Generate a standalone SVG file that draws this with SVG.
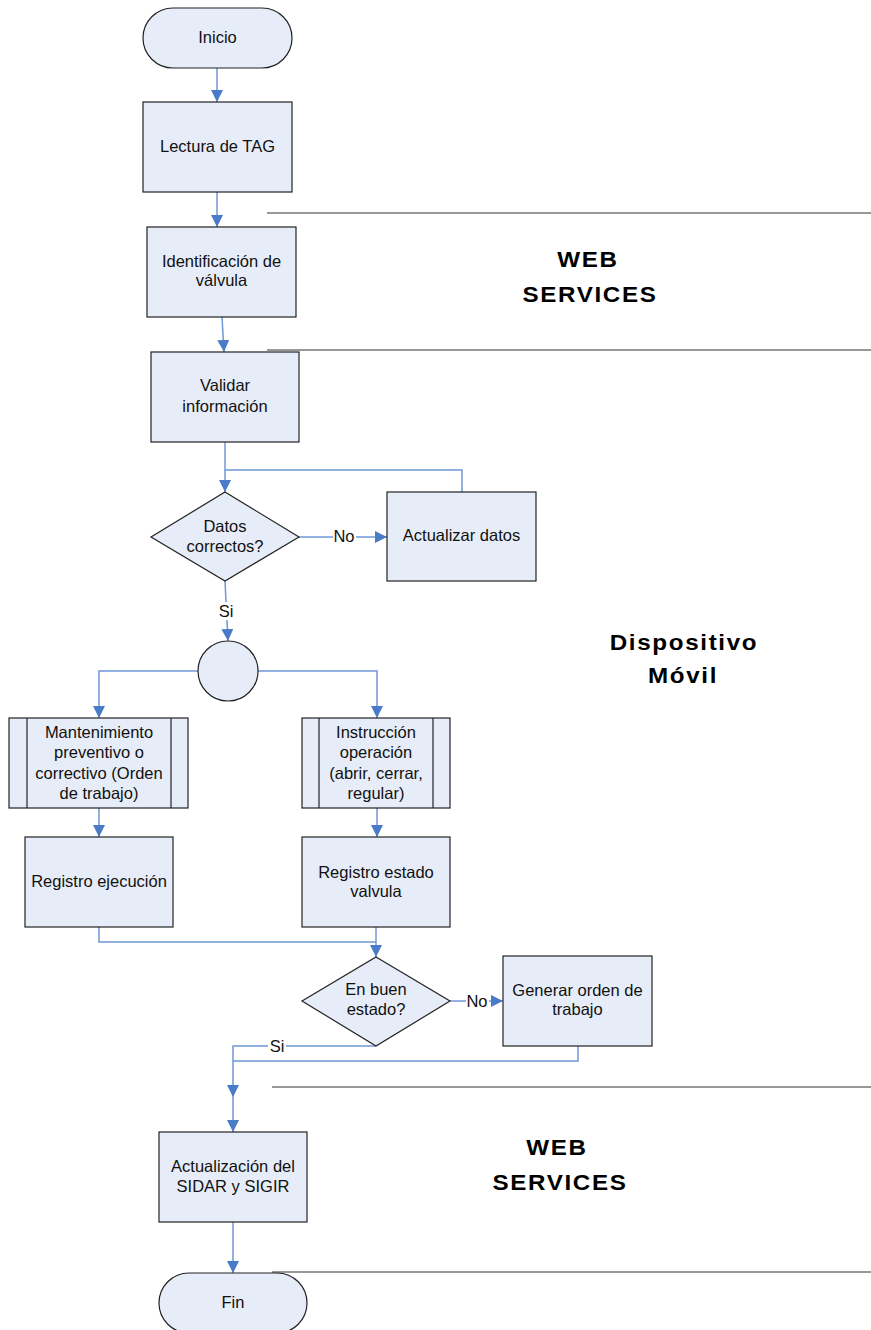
<svg xmlns="http://www.w3.org/2000/svg" width="871" height="1330" viewBox="0 0 871 1330">
  <style>
    .shape { fill: #E7EDF8; stroke: #222222; stroke-width: 1.2; }
    .lbl { font-family: "Liberation Sans", Arial, sans-serif; font-size: 16.5px; fill: #111111; text-anchor: middle; }
    .big { font-family: "Liberation Sans", Arial, sans-serif; font-size: 22px; font-weight: bold; fill: #000000; text-anchor: middle; letter-spacing: 1.5px; }
    .conn { fill: none; stroke: #6F98D6; stroke-width: 1.5; }
    .sep { stroke: #333333; stroke-width: 1.2; }
    .bg { fill: #FFFFFF; }
  </style>
  <defs>
    <marker id="arrow" markerUnits="userSpaceOnUse" markerWidth="12" markerHeight="12" refX="12" refY="6" orient="auto">
      <path d="M0,0 L12,6 L0,12 z" fill="#4A7BC8"/>
    </marker>
  </defs>

  <rect width="871" height="1330" fill="#FFFFFF"/>

  <!-- section separators -->
  <g id="separators">
    <line class="sep" x1="267" y1="213" x2="871" y2="213"/>
    <line class="sep" x1="267" y1="350" x2="871" y2="350"/>
    <line class="sep" x1="272" y1="1087" x2="871" y2="1087"/>
    <line class="sep" x1="272" y1="1272" x2="871" y2="1272"/>
  </g>

  <!-- section titles (widened lettering) -->
  <g id="titles">
    <text class="big" transform="translate(588,267) scale(1.1,1)">WEB</text>
    <text class="big" transform="translate(590,302) scale(1.1,1)">SERVICES</text>
    <text class="big" transform="translate(684,650) scale(1.1,1)">Dispositivo</text>
    <text class="big" transform="translate(683,683) scale(1.1,1)">Móvil</text>
    <text class="big" transform="translate(557,1155) scale(1.1,1)">WEB</text>
    <text class="big" transform="translate(560,1190) scale(1.1,1)">SERVICES</text>
  </g>

  <!-- connectors -->
  <g id="connectors">
    <path class="conn" d="M217,68 V102" marker-end="url(#arrow)"/>
    <path class="conn" d="M217,192 V227" marker-end="url(#arrow)"/>
    <path class="conn" d="M222,317 L224,352" marker-end="url(#arrow)"/>
    <path class="conn" d="M225,442 V492" marker-end="url(#arrow)"/>
    <path class="conn" d="M462,492 V470 H225"/>
    <path class="conn" d="M299,537 H387" marker-end="url(#arrow)"/>
    <path class="conn" d="M225,581 L228,641" marker-end="url(#arrow)"/>
    <path class="conn" d="M198,671 H99 V718" marker-end="url(#arrow)"/>
    <path class="conn" d="M258,671 H377 V718" marker-end="url(#arrow)"/>
    <path class="conn" d="M99,808 V837" marker-end="url(#arrow)"/>
    <path class="conn" d="M377,808 V837" marker-end="url(#arrow)"/>
    <path class="conn" d="M99,927 V942 H376"/>
    <path class="conn" d="M376,927 V957" marker-end="url(#arrow)"/>
    <path class="conn" d="M450,1001 H503" marker-end="url(#arrow)"/>
    <path class="conn" d="M376,1046 H233 V1097" marker-end="url(#arrow)"/>
    <path class="conn" d="M578,1046 V1061 H233"/>
    <path class="conn" d="M233,1097 V1132" marker-end="url(#arrow)"/>
    <path class="conn" d="M233,1222 V1273" marker-end="url(#arrow)"/>
    <!-- branch labels -->
    <rect class="bg" x="333" y="528" width="23" height="17"/>
    <text class="lbl" x="344" y="542">No</text>
    <rect class="bg" x="217" y="602" width="18" height="18"/>
    <text class="lbl" x="226" y="617">Si</text>
    <rect class="bg" x="466" y="993" width="23" height="17"/>
    <text class="lbl" x="477" y="1007">No</text>
    <rect class="bg" x="268" y="1038" width="18" height="16"/>
    <text class="lbl" x="277" y="1052">Si</text>
  </g>

  <g id="inicio">
    <rect class="shape" x="143" y="8" width="149" height="60" rx="30" ry="30"/>
    <text class="lbl" x="217.5" y="43">Inicio</text>
  </g>

  <g id="lectura-tag">
    <rect class="shape" x="143" y="102" width="149" height="90"/>
    <text class="lbl" x="217.5" y="152">Lectura de TAG</text>
  </g>

  <g id="identificacion">
    <rect class="shape" x="147" y="227" width="149" height="90"/>
    <text class="lbl" x="221.5" y="267">Identificación de</text>
    <text class="lbl" x="221.5" y="286">válvula</text>
  </g>

  <g id="validar">
    <rect class="shape" x="151" y="352" width="148" height="90"/>
    <text class="lbl" x="225" y="391">Validar</text>
    <text class="lbl" x="225" y="412">información</text>
  </g>

  <g id="datos-correctos">
    <polygon class="shape" points="225,492 299,537 225,581 151,537"/>
    <text class="lbl" x="225" y="532">Datos</text>
    <text class="lbl" x="225" y="552">correctos?</text>
  </g>

  <g id="actualizar-datos">
    <rect class="shape" x="387" y="492" width="149" height="89"/>
    <text class="lbl" x="461.5" y="541">Actualizar datos</text>
  </g>

  <g id="conector">
    <circle class="shape" cx="228" cy="671" r="30"/>
  </g>

  <g id="mantenimiento">
    <rect class="shape" x="9" y="718" width="179" height="90"/>
    <line class="shape" x1="27" y1="718" x2="27" y2="808"/>
    <line class="shape" x1="171" y1="718" x2="171" y2="808"/>
    <text class="lbl" x="99" y="738">Mantenimiento</text>
    <text class="lbl" x="99" y="758">preventivo o</text>
    <text class="lbl" x="99" y="779">correctivo (Orden</text>
    <text class="lbl" x="99" y="799">de trabajo)</text>
  </g>

  <g id="instruccion">
    <rect class="shape" x="302" y="718" width="148" height="90"/>
    <line class="shape" x1="319" y1="718" x2="319" y2="808"/>
    <line class="shape" x1="433" y1="718" x2="433" y2="808"/>
    <text class="lbl" x="376" y="738">Instrucción</text>
    <text class="lbl" x="376" y="758">operación</text>
    <text class="lbl" x="376" y="779">(abrir, cerrar,</text>
    <text class="lbl" x="376" y="799">regular)</text>
  </g>

  <g id="registro-ejecucion">
    <rect class="shape" x="25" y="837" width="148" height="90"/>
    <text class="lbl" x="99" y="887">Registro ejecución</text>
  </g>

  <g id="registro-estado">
    <rect class="shape" x="302" y="837" width="148" height="90"/>
    <text class="lbl" x="376" y="878">Registro estado</text>
    <text class="lbl" x="376" y="897">valvula</text>
  </g>

  <g id="buen-estado">
    <polygon class="shape" points="376,957 450,1001 376,1046 302,1001"/>
    <text class="lbl" x="376" y="995">En buen</text>
    <text class="lbl" x="376" y="1015">estado?</text>
  </g>

  <g id="generar-orden">
    <rect class="shape" x="503" y="956" width="149" height="90"/>
    <text class="lbl" x="577.5" y="996">Generar orden de</text>
    <text class="lbl" x="577.5" y="1015">trabajo</text>
  </g>

  <g id="actualizacion-sidar">
    <rect class="shape" x="159" y="1132" width="148" height="90"/>
    <text class="lbl" x="233" y="1172">Actualización del</text>
    <text class="lbl" x="233" y="1192">SIDAR y SIGIR</text>
  </g>

  <g id="fin">
    <rect class="shape" x="159" y="1273" width="148" height="60" rx="30" ry="30"/>
    <text class="lbl" x="233" y="1308">Fin</text>
  </g>
</svg>
